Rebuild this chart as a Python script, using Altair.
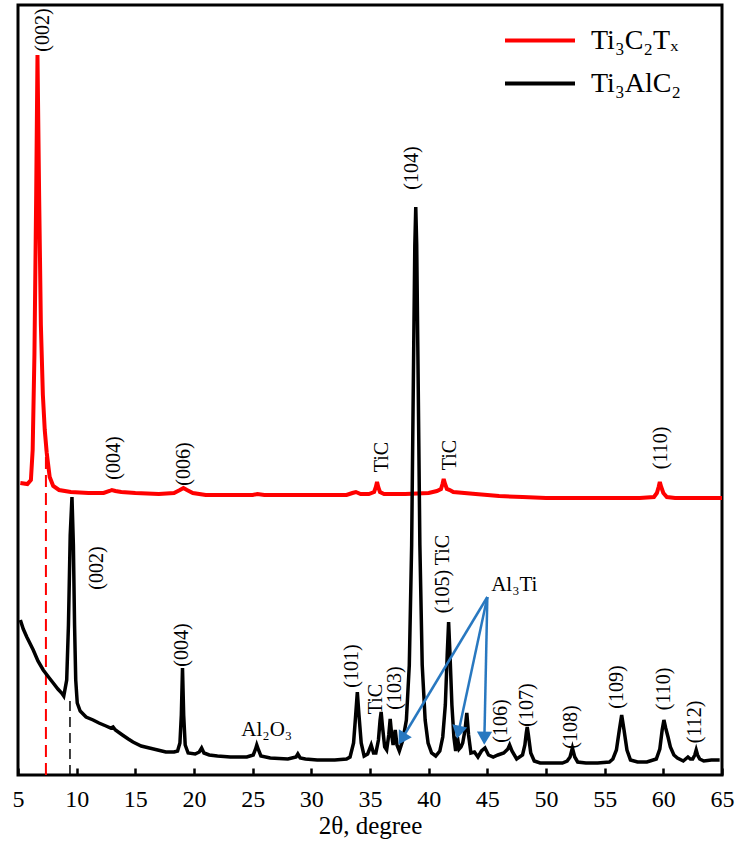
import math
import altair as alt
import pandas as pd

# ---------------- data ----------------
series_names = ["Ti₃C₂Tₓ", "Ti₃AlC₂"]

# Ti3C2Tx pattern (2theta in degrees, intensity in a.u.)
ti3c2tx_pattern = [
    (5.2, 292), (5.8, 291), (6.1, 295), (6.25, 325), (6.4, 420), (6.55, 580),
    (6.66, 720), (6.8, 580), (6.95, 450), (7.12, 380), (7.28, 345), (7.45, 322),
    (7.7, 298), (8.0, 289), (8.5, 285), (9.5, 283), (11.0, 282), (12.3, 282),
    (12.8, 284), (13.0, 285), (13.3, 284), (13.8, 283), (15.0, 282), (17.0, 281),
    (18.3, 282), (18.8, 285), (19.1, 287), (19.4, 285), (19.9, 282), (21.0, 280),
    (23.0, 280), (25.0, 280), (25.4, 281), (26.0, 280), (28.0, 280), (30.0, 280),
    (33.0, 280), (33.5, 282), (33.8, 283), (34.2, 281), (34.9, 281), (35.35, 283),
    (35.5, 288), (35.6, 293), (35.7, 288), (35.85, 283), (36.2, 281), (38.0, 281),
    (40.0, 282), (40.7, 284), (41.05, 286), (41.18, 291), (41.28, 296), (41.4, 291),
    (41.55, 286), (41.8, 285), (42.1, 283), (44.0, 281), (46.0, 279), (48.0, 278),
    (50.0, 277), (54.0, 277), (58.0, 277), (59.2, 278), (59.45, 282), (59.6, 288),
    (59.7, 293), (59.82, 288), (60.0, 282), (60.3, 278), (61.0, 277), (63.0, 277),
    (65.0, 277),
]

# Ti3AlC2 pattern (2theta in degrees, intensity in a.u.)
ti3alc2_pattern = [
    (5.2, 155), (5.45, 146), (5.75, 138), (6.3, 125), (6.7, 114), (7.15, 105),
    (7.6, 98), (8.0, 92), (8.4, 86), (8.72, 82), (8.9, 79), (9.15, 95),
    (9.3, 150), (9.45, 240), (9.6, 278), (9.72, 230), (9.82, 150), (9.92, 95),
    (10.05, 72), (10.3, 64), (10.8, 58), (11.4, 55), (11.9, 52), (12.5, 49),
    (12.9, 47), (13.1, 48), (13.3, 45), (13.9, 40), (14.4, 36), (14.8, 33),
    (15.5, 29), (16.2, 27), (16.9, 25), (17.6, 23), (18.3, 23), (18.6, 24),
    (18.8, 32), (18.92, 60), (19.02, 107), (19.12, 60), (19.25, 30), (19.5, 22),
    (20.1, 21), (20.45, 23), (20.65, 27), (20.85, 22), (21.3, 20), (22.0, 19),
    (23.1, 18), (24.5, 18), (25.05, 20), (25.25, 26), (25.35, 30), (25.5, 25),
    (25.7, 19), (26.5, 17), (28.0, 16), (28.7, 18), (28.85, 21), (29.05, 17),
    (29.5, 16), (30.5, 15), (32.0, 15), (33.0, 16), (33.3, 18), (33.6, 32),
    (33.78, 60), (33.92, 83), (34.06, 60), (34.25, 32), (34.5, 19), (34.8, 21),
    (35.1, 30), (35.3, 22), (35.5, 22), (35.72, 35), (35.86, 55), (35.95, 63),
    (36.05, 50), (36.25, 28), (36.42, 25), (36.6, 40), (36.72, 56), (36.85, 40),
    (36.97, 30), (37.15, 45), (37.3, 30), (37.5, 24), (37.8, 35), (38.1, 55),
    (38.35, 110), (38.55, 230), (38.7, 400), (38.82, 530), (38.9, 568), (38.98, 530),
    (39.1, 400), (39.25, 230), (39.45, 110), (39.7, 55), (39.95, 32), (40.25, 22),
    (40.6, 19), (40.95, 24), (41.2, 38), (41.42, 70), (41.58, 120), (41.7, 153),
    (41.82, 120), (41.98, 70), (42.15, 38), (42.3, 24), (42.45, 38), (42.6, 26),
    (42.75, 28), (42.9, 32), (43.1, 45), (43.25, 62), (43.4, 40), (43.6, 22),
    (43.9, 23), (44.2, 18), (44.5, 24), (44.8, 27), (45.1, 20), (45.5, 18),
    (45.9, 20), (46.4, 22), (46.75, 26), (46.9, 30), (47.1, 24), (47.5, 16),
    (48.0, 20), (48.2, 30), (48.32, 42), (48.4, 48), (48.5, 40), (48.7, 22),
    (49.0, 14), (49.5, 12), (50.4, 12), (51.4, 12), (51.8, 14), (52.05, 18),
    (52.25, 27), (52.45, 18), (52.7, 13), (53.4, 12), (54.4, 12), (55.4, 13),
    (55.7, 16), (56.0, 25), (56.25, 45), (56.45, 60), (56.65, 45), (56.9, 25),
    (57.2, 15), (57.8, 13), (58.6, 13), (59.4, 16), (59.7, 26), (59.9, 45),
    (60.05, 55), (60.2, 47), (60.4, 38), (60.6, 28), (60.9, 20), (61.2, 17),
    (61.7, 14), (62.1, 18), (62.3, 16), (62.5, 16), (62.68, 20), (62.8, 25),
    (62.92, 20), (63.1, 16), (63.45, 14), (64.1, 15), (64.8, 15),
]

# peak annotations
red_label_text = ["(002)", "(004)", "(006)", "TiC", "TiC", "(110)"]
red_label_t = [7.17, 13.17, 19.13, 36.02, 41.8, 59.77]
red_label_i = [745, 317, 311, 318, 320, 327]

black_label_text = ["(002)", "(004)", "(101)", "TiC", "(103)", "(104)", "(105) TiC",
                    "(106)", "(107)", "(108)", "(109)", "(110)", "(112)"]
black_label_t = [11.77, 19.0, 33.43, 35.55, 37.09, 38.57, 41.26,
                 46.2, 48.4, 52.15, 56.06, 60.06, 62.7]
black_label_i = [207, 130, 109, 76, 87, 607, 201, 54, 70, 48, 88, 86, 53]

phase_label_text = ["Al₂O₃", "Al₃Ti"]
phase_label_t = [26.2, 47.3]
phase_label_i = [45, 190]

# Al3Ti arrows: origin and tips
arrow_origin = (45.0, 178)
arrow_tip_t = [37.51, 42.45, 44.74]
arrow_tip_i = [32, 38, 32]

# reference dashed lines (002 positions)
dash_red_t, dash_red_top = 7.38, 330
dash_black_t, dash_black_top = 9.43, 77

x_ticks = list(range(5, 66, 5))

# ---------------- style ----------------
W, H = 704, 770
X_DOM, Y_DOM = [5, 65], [0, 770]
FONT = "Liberation Serif"
RED, BLACK, BLUE = "#ff0000", "#000000", "#2878c0"

px_t = W / (X_DOM[1] - X_DOM[0])
px_i = H / (Y_DOM[1] - Y_DOM[0])

xs = alt.Scale(domain=X_DOM, nice=False, zero=False)
ys = alt.Scale(domain=Y_DOM, nice=False, zero=False)
cs = alt.Scale(domain=series_names, range=[RED, BLACK])

x_axis = alt.Axis(values=x_ticks, domain=False, grid=False, tickSize=7, tickWidth=2.5,
                  tickColor="black", offset=-7, labelFont=FONT, labelFontSize=24,
                  labelColor="black", labelPadding=12, labelFlush=False,
                  title="2θ, degree", titleFont=FONT, titleFontSize=25,
                  titleFontWeight="normal", titleColor="black", titlePadding=2)

legend = alt.Legend(orient="none", legendX=485, legendY=14, title=None,
                    symbolType="stroke", symbolSize=4900, symbolStrokeWidth=4,
                    labelFont=FONT, labelFontSize=28, labelColor="black",
                    labelOffset=14, rowPadding=0, clipHeight=43, labelLimit=300)


def X(field="t"):
    return alt.X(f"{field}:Q", scale=xs, axis=x_axis)


def Y(field="i"):
    return alt.Y(f"{field}:Q", scale=ys, axis=None)


df_red = pd.DataFrame(ti3c2tx_pattern, columns=["t", "i"])
df_red["s"] = series_names[0]
df_blk = pd.DataFrame(ti3alc2_pattern, columns=["t", "i"])
df_blk["s"] = series_names[1]

red_line = alt.Chart(df_red).mark_line(strokeWidth=4, clip=True).encode(
    x=X(), y=Y(), color=alt.Color("s:N", scale=cs, legend=legend), order=alt.Order("t:Q"))
blk_line = alt.Chart(df_blk).mark_line(strokeWidth=3.5, clip=True).encode(
    x=X(), y=Y(), color=alt.Color("s:N", scale=cs, legend=legend), order=alt.Order("t:Q"))

df_dr = pd.DataFrame({"t": [dash_red_t], "i": [0], "i2": [dash_red_top]})
df_db = pd.DataFrame({"t": [dash_black_t], "i": [0], "i2": [dash_black_top]})
dash_red = alt.Chart(df_dr).mark_rule(color=RED, strokeWidth=2, strokeDash=[12, 6]).encode(
    x=X(), y=Y(), y2="i2:Q")
dash_blk = alt.Chart(df_db).mark_rule(color=BLACK, strokeWidth=1.5, strokeDash=[10, 6]).encode(
    x=X(), y=Y(), y2="i2:Q")

df_rl = pd.DataFrame({"t": red_label_t, "i": red_label_i, "txt": red_label_text})
df_bl = pd.DataFrame({"t": black_label_t, "i": black_label_i, "txt": black_label_text})
df_pl = pd.DataFrame({"t": phase_label_t, "i": phase_label_i, "txt": phase_label_text})

red_labels = alt.Chart(df_rl).mark_text(angle=270, font=FONT, fontSize=20, color=BLACK,
                                        align="center", baseline="middle").encode(
    x=X(), y=Y(), text="txt:N")
blk_labels = alt.Chart(df_bl).mark_text(angle=270, font=FONT, fontSize=20, color=BLACK,
                                        align="center", baseline="middle").encode(
    x=X(), y=Y(), text="txt:N")
phase_labels = alt.Chart(df_pl).mark_text(font=FONT, fontSize=21, color=BLACK,
                                          align="center", baseline="middle").encode(
    x=X(), y=Y(), text="txt:N")

# arrows
ot, oi = arrow_origin
rows = []
for tt, ti in zip(arrow_tip_t, arrow_tip_i):
    dx = (tt - ot) * px_t
    dy = -(ti - oi) * px_i  # screen y grows downward
    L = math.hypot(dx, dy)
    ux, uy = dx / L, dy / L
    back = 7.0
    ht = tt - back * ux / px_t
    hi = ti + back * uy / px_i
    ang = (math.degrees(math.atan2(dx, -dy)) + 360) % 360
    rows.append({"t": ot, "i": oi, "t2": ht, "i2": hi, "ht": ht, "hi": hi, "ang": ang})
df_ar = pd.DataFrame(rows)

arrow_shafts = alt.Chart(df_ar).mark_rule(color=BLUE, strokeWidth=2.5).encode(
    x=X(), y=Y(), x2="t2:Q", y2="i2:Q")
arrow_heads = alt.Chart(df_ar).mark_point(shape="triangle", filled=True, size=230,
                                          color=BLUE, opacity=1).encode(
    x=X("ht"), y=Y("hi"), angle=alt.Angle("ang:Q", scale=None))

chart = alt.layer(
    dash_red, dash_blk, red_line, blk_line, arrow_shafts, arrow_heads,
    red_labels, blk_labels, phase_labels,
).properties(
    width=W, height=H,
    padding={"left": 18, "top": 5, "right": 22, "bottom": 75},
    autosize=alt.AutoSizeParams(type="none"),
    background="white",
).configure_view(stroke="black", strokeWidth=3)

chart.save("out.html", embed_options={"renderer": "svg", "actions": False})
